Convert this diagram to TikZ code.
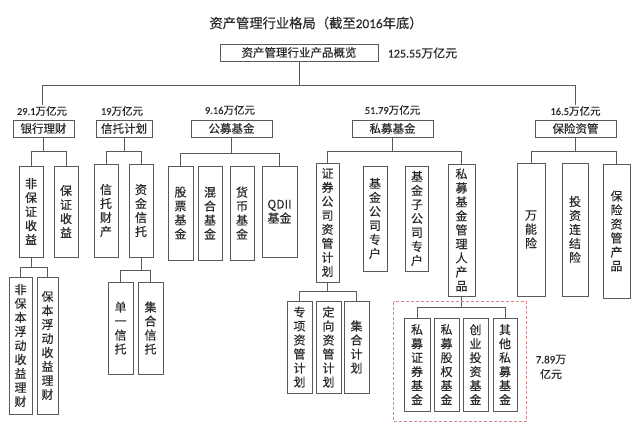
\documentclass[tikz,border=0pt]{standalone}
\usepackage{fontspec}
\setmainfont{Noto Sans CJK SC}[UprightFeatures={FakeBold=0.35}]
\newfontfamily\numfont{Carlito}[UprightFeatures={FakeBold=0.35}]
\definecolor{linegray}{HTML}{595959}
\definecolor{txtgray}{HTML}{2A2A2A}
\definecolor{dashred}{HTML}{D4898A}

\begin{document}
\begin{tikzpicture}
          [x=1pt,y=-1pt,
           every node/.style={text=txtgray},
           hbox/.style={draw=linegray,line width=0.9pt,inner sep=0pt,minimum height=17pt,font=\fontsize{11.5}{14}\selectfont},
           vbox/.style={draw=linegray,line width=0.9pt,inner sep=0pt,align=center,font=\fontsize{12}{14}\selectfont},
           val/.style={inner sep=1pt,align=center,font=\fontsize{10.5}{13}\selectfont},
           conn/.style={draw=linegray,line width=0.9pt}]
          \useasboundingbox (0,0) rectangle (640,430);

          \node (title) at (316,23) [font=\fontsize{13.3}{15}\selectfont] {资产管理行业格局（截至{\numfont 2016}年底）};
          \node[hbox,minimum width=158pt,font=\fontsize{11.5}{13}\selectfont] (root) at (299,52.5) {资产管理行业产品概览};
          \node[val,font=\fontsize{12}{14}\selectfont] (rootv) at (422.5,53) {{\numfont 125.55}万亿元};

          % first level
          \node[hbox,minimum width=61pt] (bank) at (43.5,128.5) {银行理财};
          \node[hbox,minimum width=56pt] (trust) at (124,128.5) {信托计划};
          \node[hbox,minimum width=81pt] (mf) at (231.5,128.5) {公募基金};
          \node[hbox,minimum width=81pt] (pf) at (392.5,128.5) {私募基金};
          \node[hbox,minimum width=81pt] (ins) at (575.5,128.5) {保险资管};

          \node[val] (bankv) at (42,111) {{\numfont 29.1}万亿元};
          \node[val] (trustv) at (122,111) {{\numfont 19}万亿元};
          \node[val] (mfv) at (230,110) {{\numfont 9.16}万亿元};
          \node[val] (pfv) at (392.5,110) {{\numfont 51.79}万亿元};
          \node[val] (insv) at (575.5,111) {{\numfont 16.5}万亿元};

          % second level
          \node[vbox,minimum width=24pt,minimum height=91pt] (fbz) at (31,211.5) {非\\保\\证\\收\\益};
          \node[vbox,minimum width=24pt,minimum height=91pt] (bz) at (66,211.5) {保\\证\\收\\益};
          \node[vbox,minimum width=24pt,minimum height=93pt] (xtcc) at (106,210.5) {信\\托\\财\\产};
          \node[vbox,minimum width=24pt,minimum height=93pt] (zjxt) at (141,210.5) {资\\金\\信\\托};
          \node[vbox,minimum width=25pt,minimum height=94pt] (gp) at (180.5,213) {股\\票\\基\\金};
          \node[vbox,minimum width=24pt,minimum height=94pt] (hh) at (210,213) {混\\合\\基\\金};
          \node[vbox,minimum width=24pt,minimum height=94pt] (hb) at (242,213) {货\\币\\基\\金};
          \node[vbox,minimum width=35pt,minimum height=91pt] (qdii) at (279.5,211.5) {QDII\\基金};

          \node[vbox,minimum width=23pt,minimum height=119pt] (zq) at (327.5,222.5) {证\\券\\公\\司\\资\\管\\计\\划};
          \node[vbox,minimum width=24pt,minimum height=105pt] (jjgs) at (375,218.5) {基\\金\\公\\司\\专\\户};
          \node[vbox,minimum width=23pt,minimum height=105pt] (jjzgs) at (417,218.5) {基\\金\\子\\公\\司\\专\\户};
          \node[vbox,minimum width=27pt,minimum height=132pt] (smgl) at (461.5,230) {私\\募\\基\\金\\管\\理\\人\\产\\品};

          \node[vbox,minimum width=28pt,minimum height=133pt] (wnx) at (531,229.5) {万\\能\\险};
          \node[vbox,minimum width=26pt,minimum height=133pt] (tzlj) at (575,229.5) {投\\资\\连\\结\\险};
          \node[vbox,minimum width=27pt,minimum height=134pt] (bxzg) at (616.5,231) {保\\险\\资\\管\\产\\品};

          % third level
          \node[vbox,minimum width=23pt,minimum height=137pt] (fbbfd) at (20.5,345.5) {非\\保\\本\\浮\\动\\收\\益\\理\\财};
          \node[vbox,minimum width=21pt,minimum height=137pt] (bbfd) at (47.5,345.5) {保\\本\\浮\\动\\收\\益\\理\\财};
          \node[vbox,minimum width=25pt,minimum height=92pt] (dyxt) at (120.5,328) {单\\一\\信\\托};
          \node[vbox,minimum width=25pt,minimum height=92pt] (jhxt) at (150.5,328) {集\\合\\信\\托};
          \node[vbox,minimum width=25pt,minimum height=92pt] (zxzg) at (299.5,347) {专\\项\\资\\管\\计\\划};
          \node[vbox,minimum width=25pt,minimum height=92pt] (dxzg) at (328.5,347) {定\\向\\资\\管\\计\\划};
          \node[vbox,minimum width=25pt,minimum height=92pt] (jhjh) at (356.5,347) {集\\合\\计\\划};
          \node[vbox,minimum width=26pt,minimum height=93pt] (smzq) at (417,364.5) {私\\募\\证\\券\\基\\金};
          \node[vbox,minimum width=25pt,minimum height=93pt] (smgq) at (446.5,364.5) {私\\募\\股\\权\\基\\金};
          \node[vbox,minimum width=25pt,minimum height=93pt] (cytz) at (475.5,364.5) {创\\业\\投\\资\\基\\金};
          \node[vbox,minimum width=24pt,minimum height=93pt] (qtsm) at (505,364.5) {其\\他\\私\\募\\基\\金};
          \node[val,font=\fontsize{11}{15}\selectfont] (pev) at (551,367) {{\numfont 7.89}万\\亿元};

          \draw[conn] (root.south) -- ++(0,24) coordinate (b0) (bankv.north) |- (b0) -| (insv.north);
          \foreach \p/\a/\b/\h in {bank/fbz/bz/14,trust/xtcc/zjxt/14,mf/gp/qdii/16,pf/zq/smgl/14,ins/wnx/bxzg/14,
                                   fbz/fbbfd/bbfd/10,zjxt/dyxt/jhxt/13,zq/zxzg/jhjh/9,smgl/smzq/qtsm/11}
            \draw[conn] (\p.south) -- ++(0,\h) coordinate (m) (\a.north) |- (m) -| (\b.north);

          \draw[dashred,line width=0.9pt,dash pattern=on 3pt off 2pt]
            ([shift={(-10,-16)}]smzq.north west) rectangle ([shift={(9,10)}]qtsm.south east);

        \end{tikzpicture}
\end{document}
